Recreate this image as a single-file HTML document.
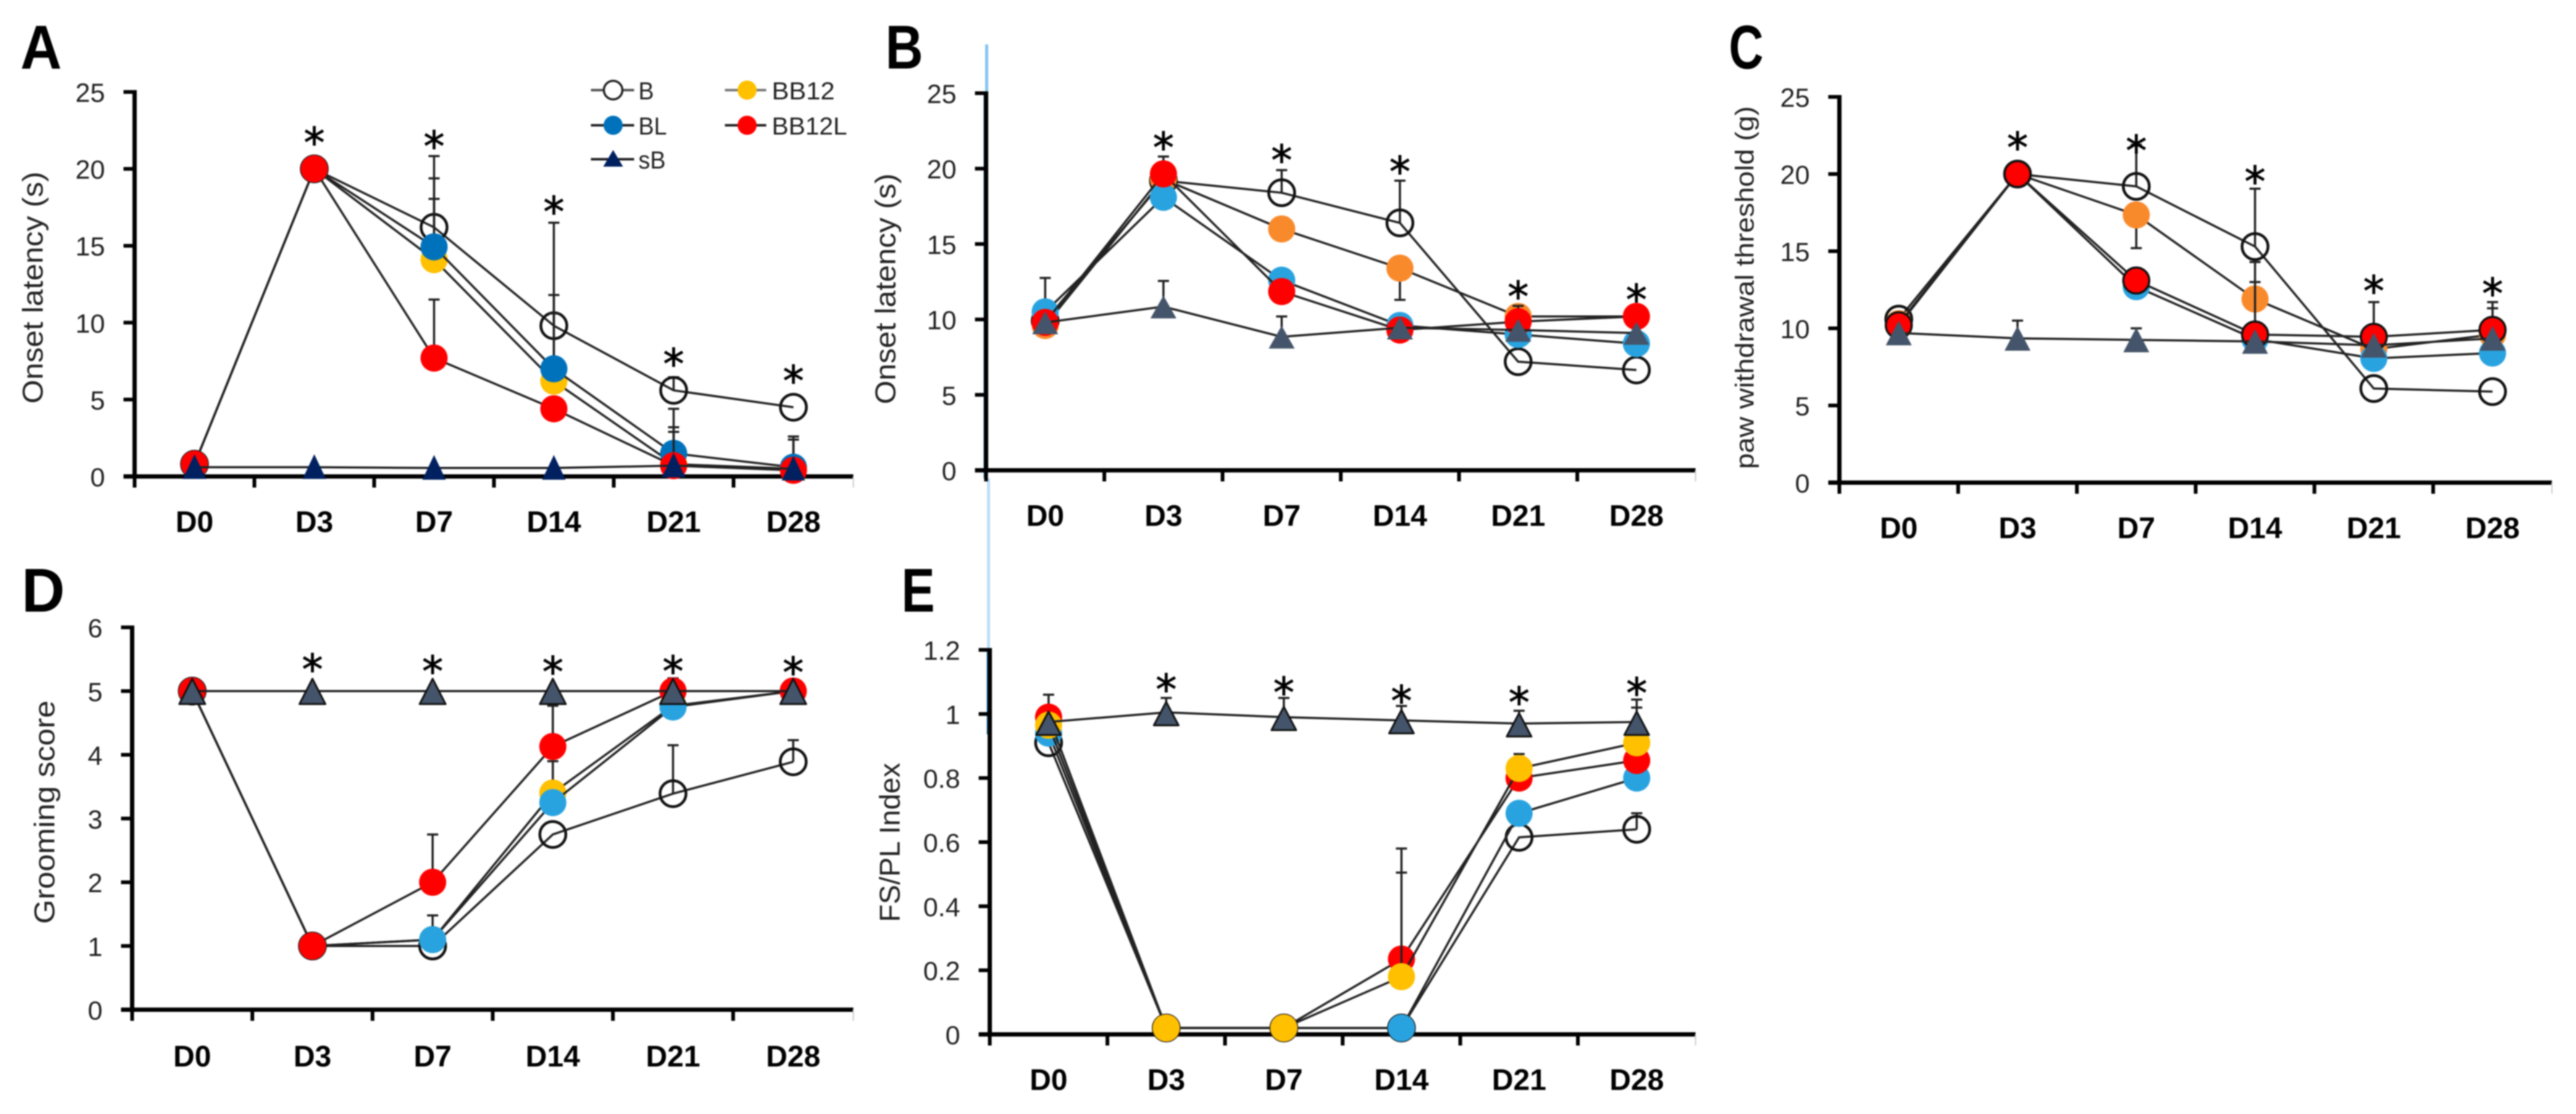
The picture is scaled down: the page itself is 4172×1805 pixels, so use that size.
<!DOCTYPE html>
<html lang="en">
<head>
<meta charset="utf-8">
<title>Behavioural time-course panels A–E</title>
<style>
html,body{margin:0;padding:0;background:#fff;}
svg{display:block;filter:blur(1.1px);}
text{font-family:"Liberation Sans",sans-serif;}
.tick{font-size:43px;fill:#222;text-anchor:end;}
.cat{font-size:48px;font-weight:700;fill:#000;text-anchor:middle;}
.ttl{font-size:46px;fill:#222;text-anchor:middle;}
.let{font-size:100px;font-weight:700;fill:#000;}
.leg{font-size:40px;fill:#222;}
.star{font-size:68px;fill:#000;stroke:#000;stroke-width:1;text-anchor:middle;font-family:"DejaVu Sans",sans-serif;}
</style>
</head>
<body>
<svg id="figure" xmlns="http://www.w3.org/2000/svg" width="4172" height="1805" viewBox="0 0 4172 1805">
<rect width="4172" height="1805" fill="#fff"/>
<path d="M1598 72V150" stroke="#82c6f0" stroke-width="5" fill="none"/>
<path d="M1595 150V775" stroke="#2a8fc4" stroke-width="4" fill="none"/>
<path d="M1601 775V1053" stroke="#bcdef6" stroke-width="5" fill="none"/>
<path d="M1600 1053V1190" stroke="#1f78b0" stroke-width="4" fill="none"/>
<text class="let" x="33" y="111" textLength="67" lengthAdjust="spacingAndGlyphs">A</text>
<text class="let" x="1434" y="111" textLength="61" lengthAdjust="spacingAndGlyphs">B</text>
<text class="let" x="2800" y="111" textLength="56" lengthAdjust="spacingAndGlyphs">C</text>
<text class="let" x="35" y="991" textLength="70" lengthAdjust="spacingAndGlyphs">D</text>
<text class="let" x="1460" y="991" textLength="54" lengthAdjust="spacingAndGlyphs">E</text>
<text class="ttl" transform="translate(69,466) rotate(-90)" textLength="376" lengthAdjust="spacingAndGlyphs">Onset latency (s)</text>
<text class="ttl" transform="translate(1450,468) rotate(-90)" textLength="374" lengthAdjust="spacingAndGlyphs">Onset latency (s)</text>
<text class="ttl" style="font-size:42px" transform="translate(2840,466) rotate(-90)" textLength="588" lengthAdjust="spacingAndGlyphs">paw withdrawal threshold (g)</text>
<text class="ttl" transform="translate(88,1316) rotate(-90)" textLength="362" lengthAdjust="spacingAndGlyphs">Grooming score</text>
<text class="ttl" transform="translate(1457,1365) rotate(-90)" textLength="258" lengthAdjust="spacingAndGlyphs">FS/PL Index</text>
<g id="plots"></g>
<g id="legend">
  <g>
    <path d="M957 146H1027" stroke="#555" stroke-width="4"/><circle cx="993" cy="146" r="15" fill="#fff" stroke="#222" stroke-width="3.5"/>
    <text class="leg" x="1034" y="161" textLength="25" lengthAdjust="spacingAndGlyphs">B</text>
  </g>
  <g>
    <path d="M1174 146H1241" stroke="#777" stroke-width="4"/><circle cx="1210" cy="146" r="15.5" fill="#ffc000"/>
    <text class="leg" x="1250" y="161" textLength="102" lengthAdjust="spacingAndGlyphs">BB12</text>
  </g>
  <g>
    <path d="M957 203H1027" stroke="#222" stroke-width="4"/><circle cx="993" cy="203" r="15.5" fill="#0072bc"/>
    <text class="leg" x="1034" y="218" textLength="46" lengthAdjust="spacingAndGlyphs">BL</text>
  </g>
  <g>
    <path d="M1174 203H1241" stroke="#222" stroke-width="4"/><circle cx="1210" cy="203" r="15.5" fill="#ff0000"/>
    <text class="leg" x="1250" y="218" textLength="122" lengthAdjust="spacingAndGlyphs">BB12L</text>
  </g>
  <g>
    <path d="M957 258H1027" stroke="#222" stroke-width="4"/><path d="M993 243L1009 270H977Z" fill="#002060"/>
    <text class="leg" x="1034" y="273" textLength="44" lengthAdjust="spacingAndGlyphs">sB</text>
  </g>
</g>
</svg>
<script>
const categories = ['D0','D3','D7','D14','D21','D28'];
const ticksOnset = ['0','5','10','15','20','25'];
const ticksScore = ['0','1','2','3','4','5','6'];
const ticksIndex = ['0','0.2','0.4','0.6','0.8','1','1.2'];

const aB = [0.8,20,16.2,9.8,5.6,4.5];
const aBB12 = [0.8,20,14.1,6.2,0.8,0.5];
const aBL = [0.8,20,14.93,7.0,1.5,0.6];
const aBB12L = [0.8,20,7.7,4.4,0.7,0.4];
const aSB = [0.6,0.6,0.55,0.55,0.7,0.5];
const aBErr = [null,null,20.83,16.5,6.45,null];
const aBB12Err = [null,null,18.05,10.6,3.2,2.4];
const aBLErr = [null,null,19.38,11.8,4.4,2.6];
const aBB12LErr = [null,null,11.5,null,2.9,null];
const aSBErr = [null,null,null,null,null,null];
const aStars = [null,22.2,21.95,17.7,7.8,6.7];

const bB = [9.9,19.2,18.4,16.4,7.2,6.65];
const bBB12 = [9.6,19.3,16.0,13.4,10.2,10.2];
const bBL = [10.5,18.1,12.6,9.6,9.0,8.4];
const bBB12L = [9.8,19.65,11.85,9.3,9.85,10.2];
const bSB = [9.8,10.85,8.85,9.45,9.3,9.1];
const bBErr = [null,null,19.9,19.2,null,null];
const bBB12Err = [null,null,null,11.3,null,null];
const bBLErr = [12.75,null,null,null,null,null];
const bBB12LErr = [null,20.8,null,null,10.9,10.5];
const bSBErr = [null,12.55,10.2,null,null,null];
const bStars = [null,21.9,21.05,20.3,12.0,11.8];

const cB = [10.6,20,19.2,15.3,6.1,5.9];
const cBB12 = [10.3,20,17.35,11.9,8.65,9.6];
const cBL = [10.2,20,12.7,9.3,8.05,8.4];
const cBB12L = [10.2,20,13.1,9.6,9.45,9.9];
const cSB = [9.7,9.35,9.25,9.15,8.9,9.35];
const cBErr = [null,null,21.9,19.05,null,null];
const cBB12Err = [null,null,15.2,13.0,null,null];
const cBLErr = [null,null,null,14.3,null,11.3];
const cBB12LErr = [null,null,null,null,11.7,11.7];
const cSBErr = [null,10.5,10.0,null,null,null];
const cStars = [null,22.2,22.0,20.0,12.9,12.75];

const dB = [5,1,1,2.75,3.39,3.89];
const dBB12 = [5,1,1.1,3.4,4.77,5];
const dBL = [5,1,1.1,3.25,4.75,5];
const dBB12L = [5,1,2,4.13,5,5];
const dSB = [5,5,5,5,5,5];
const dBErr = [null,null,null,null,4.15,4.23];
const dBB12Err = [null,null,null,3.9,null,null];
const dBLErr = [null,null,1.48,null,null,null];
const dBB12LErr = [null,null,2.75,4.77,5.2,null];
const dSBErr = [null,null,null,null,null,null];
const dStars = [null,5.46,5.43,5.42,5.43,5.41];

const eB = [0.91,0.02,0.02,0.02,0.615,0.64];
const eBB12 = [0.965,0.02,0.02,0.18,0.83,0.91];
const eBL = [0.94,0.02,0.02,0.02,0.69,0.8];
const eBB12L = [0.99,0.02,0.02,0.235,0.8,0.855];
const eSB = [0.975,1.005,0.99,0.98,0.97,0.975];
const eBErr = [null,null,null,null,null,0.69];
const eBB12Err = [null,null,null,0.505,0.875,1.02];
const eBLErr = [null,null,null,null,null,null];
const eBB12LErr = [1.06,null,null,0.58,null,null];
const eSBErr = [null,1.05,1.05,1.025,1.01,1.045];
const eStars = [null,1.1,1.09,1.064,1.059,1.088];

const NS = 'http://www.w3.org/2000/svg';
const plots = document.getElementById('plots');
function make(tag, attrs, parent){
  const el = document.createElementNS(NS, tag);
  for (const k in attrs) el.setAttribute(k, attrs[k]);
  parent.appendChild(el);
  return el;
}
const BLUE = '#29a3e0', DARKBLUE = '#0072bc', ORANGE = '#f98a2c', YELLOW = '#ffc000', RED = '#ff0000', SLATE = '#44546a', NAVY = '#002060';
const panels = [
 {id:'a',left:218,right:1382,axisY:772,topY:149,max:25,catGap:90,ticks:ticksOnset,stars:aStars,tri:[21,19,19,NAVY,false],
  series:[
   {n:'b',v:aB,e:aBErr,kind:'hollow'},
   {n:'bb12',v:aBB12,e:aBB12Err,fill:YELLOW},
   {n:'bl',v:aBL,e:aBLErr,fill:DARKBLUE},
   {n:'bb12l',v:aBB12L,e:aBB12LErr,fill:RED},
   {n:'sb',v:aSB,e:aSBErr,kind:'tri'}]},
 {id:'b',left:1597,right:2746,axisY:762,topY:151,max:25,catGap:90,ticks:ticksOnset,stars:bStars,tri:[18,19,21,SLATE,false],
  series:[
   {n:'b',v:bB,e:bBErr,kind:'hollow'},
   {n:'bb12',v:bBB12,e:bBB12Err,fill:ORANGE},
   {n:'bl',v:bBL,e:bBLErr,fill:BLUE},
   {n:'bb12l',v:bBB12L,e:bBB12LErr,fill:RED},
   {n:'sb',v:bSB,e:bSBErr,kind:'tri'}]},
 {id:'c',left:2979,right:4133,axisY:782,topY:157,max:25,catGap:90,ticks:ticksOnset,stars:cStars,tri:[20,20,21,SLATE,false],
  series:[
   {n:'b',v:cB,e:cBErr,kind:'hollow'},
   {n:'bb12',v:cBB12,e:cBB12Err,fill:ORANGE},
   {n:'bl',v:cBL,e:cBLErr,fill:BLUE},
   {n:'bb12l',v:cBB12L,e:cBB12LErr,fill:RED,outline:true},
   {n:'sb',v:cSB,e:cSBErr,kind:'tri'}]},
 {id:'d',left:214,right:1382,axisY:1636,topY:1016.5,max:6,catGap:92,ticks:ticksScore,stars:dStars,tri:[20,21,21,SLATE,true],
  series:[
   {n:'b',v:dB,e:dBErr,kind:'hollow'},
   {n:'bb12',v:dBB12,e:dBB12Err,fill:YELLOW},
   {n:'bl',v:dBL,e:dBLErr,fill:BLUE},
   {n:'bb12l',v:dBB12L,e:dBB12LErr,fill:RED},
   {n:'sb',v:dSB,e:dSBErr,kind:'tri'}]},
 {id:'e',left:1603,right:2746,axisY:1676,topY:1053,max:1.2,catGap:90,ticks:ticksIndex,stars:eStars,tri:[17,21,20,SLATE,true],
  series:[
   {n:'b',v:eB,e:eBErr,kind:'hollow'},
   {n:'bl',v:eBL,e:eBLErr,fill:BLUE},
   {n:'bb12l',v:eBB12L,e:eBB12LErr,fill:RED},
   {n:'bb12',v:eBB12,e:eBB12Err,fill:YELLOW},
   {n:'sb',v:eSB,e:eSBErr,kind:'tri'}]}
];

panels.forEach(function(p){
  const band = (p.right - p.left) / categories.length;
  const xOf = function(i){ return p.left + band * (i + 0.5); };
  const yOf = function(v){ return p.axisY - (v / p.max) * (p.axisY - p.topY); };

  const g = make('g', {}, plots);
  
  

  const yAxis = make('line', {x1:p.left,x2:p.left,y1:p.topY-3,y2:p.axisY+3,stroke:'#000','stroke-width':7}, g);
  
  

  const xAxis = make('line', {x1:p.left-18,x2:p.right,y1:p.axisY,y2:p.axisY,stroke:'#000','stroke-width':7}, g);
  
  

  p.ticks.forEach(function(label, i){
    const v = p.max * i / (p.ticks.length - 1);
    const tm = make('line', {x1:p.left-18,x2:p.left,y1:yOf(v),y2:yOf(v),stroke:'#000','stroke-width':6}, g);
    
    
    const t = make('text', {class:'tick',x:p.left-48,y:yOf(v)+16}, g);
    t.textContent = label;
    
    
  });

  for (let i = 0; i <= categories.length; i++){
    const last = i === categories.length;
    const tm = make('line', {x1:p.left+band*i,x2:p.left+band*i,y1:p.axisY,y2:p.axisY+18,stroke:last?'#ccc':'#000','stroke-width':last?2:6}, g);
    
    
  }

  categories.forEach(function(c, i){
    const t = make('text', {class:'cat',x:xOf(i),y:p.axisY+p.catGap}, g);
    t.textContent = c;
    
    
  });

  p.series.forEach(function(s){
    const sg = make('g', {}, g);
    
    

    s.e.forEach(function(top, i){
      if (top === null) return;
      const bar = make('path', {d:'M'+xOf(i)+' '+yOf(s.v[i])+'V'+yOf(top)+'M'+(xOf(i)-9)+' '+yOf(top)+'H'+(xOf(i)+9),stroke:'#222','stroke-width':3.5,fill:'none'}, sg);
      
      
    });

    const pts = s.v.map(function(v, i){ return xOf(i) + ',' + yOf(v); }).join(' ');
    const line = make('polyline', {points:pts,fill:'none',stroke:'#222','stroke-width':3.5}, sg);
    
    

    s.v.forEach(function(v, i){
      const cx = xOf(i), cy = yOf(v);
      let m;
      if (s.kind === 'tri'){
        const t = p.tri;
        m = make('path', {d:'M'+cx+' '+(cy-t[0])+'L'+(cx+t[2])+' '+(cy+t[1])+'H'+(cx-t[2])+'Z',fill:t[3]}, sg);
        if (t[4]) { m.setAttribute('stroke','#111'); m.setAttribute('stroke-width','3'); m.setAttribute('stroke-linejoin','round'); }
      } else if (s.kind === 'hollow'){
        m = make('circle', {cx:cx,cy:cy,r:21,fill:'none',stroke:'#111','stroke-width':4.5}, sg);
      } else {
        m = make('circle', {cx:cx,cy:cy,r:s.outline?21:22,fill:s.fill}, sg);
        if (s.outline) { m.setAttribute('stroke','#111'); m.setAttribute('stroke-width','3.5'); }
      }
      
      
    });
  });

  p.stars.forEach(function(v, i){
    if (v === null) return;
    const st = make('text', {class:'star',x:xOf(i),y:yOf(v)+36}, g);
    st.textContent = '*';
    
    
  });
});
</script>
</body>
</html>
